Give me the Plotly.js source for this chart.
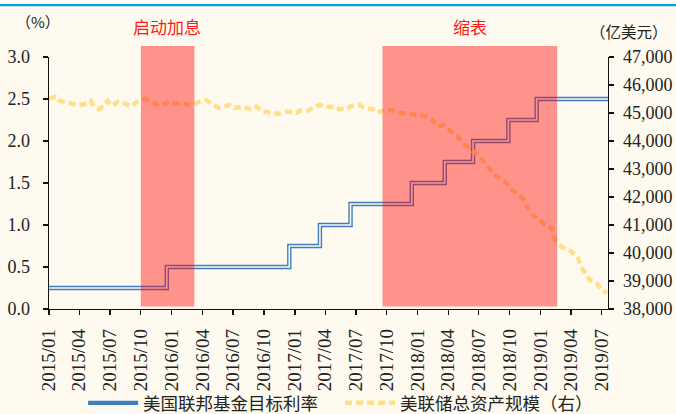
<!DOCTYPE html>
<html>
<head>
<meta charset="utf-8">
<script src="https://cdn.plot.ly/plotly-3.0.1.min.js"></script>
<style>
html,body{margin:0;padding:0;background:#FFFAEF;}
#chart{width:676px;height:414px;}
</style>
</head>
<body>
<div id="chart"></div>
<script>
// ---- Data ----
const rateDates = ['2015-01-01','2015-12-17','2016-12-15','2017-03-16','2017-06-15','2017-12-14','2018-03-22','2018-06-14','2018-09-27','2018-12-20','2019-07-20'];
const rateValues = [0.25,0.5,0.75,1.0,1.25,1.5,1.75,2.0,2.25,2.5,2.5];

const bsDates = ['2015-01-01','2015-01-20','2015-02-02','2015-02-22','2015-03-07','2015-03-26','2015-04-15','2015-05-05','2015-05-15','2015-05-30',
'2015-06-14','2015-06-24','2015-07-09','2015-07-24','2015-08-13','2015-09-02','2015-09-17','2015-10-11','2015-11-01','2015-11-25',
'2015-12-25','2016-01-14','2016-02-08','2016-03-03','2016-03-23','2016-04-12','2016-04-27','2016-05-21','2016-06-20','2016-07-05',
'2016-07-30','2016-08-29','2016-09-08','2016-09-28','2016-10-28','2016-11-12','2016-12-07','2017-01-06','2017-01-16','2017-02-10',
'2017-02-25','2017-03-15','2017-04-04','2017-05-03','2017-05-13','2017-06-07','2017-06-17','2017-07-12','2017-07-22','2017-08-21',
'2017-09-01','2017-09-25','2017-10-20','2017-11-09','2017-12-09','2018-01-09','2018-02-08','2018-03-02','2018-03-16','2018-04-11',
'2018-04-30','2018-05-15','2018-06-09','2018-07-04','2018-07-24','2018-08-18','2018-09-17','2018-10-07','2018-10-22','2018-11-10',
'2018-11-21','2018-12-06','2018-12-25','2019-01-14','2019-02-03','2019-02-13','2019-03-04','2019-04-03','2019-04-22','2019-05-07',
'2019-05-27','2019-06-16','2019-07-01','2019-07-17'];
const bsValues = [45500,45580,45430,45380,45345,45290,45310,45430,45225,45140,
45260,45430,45260,45400,45345,45225,45380,45500,45400,45260,
45400,45345,45320,45290,45400,45460,45345,45180,45290,45170,
45225,45110,45225,45050,45010,44965,45050,45010,45085,45085,
45205,45290,45225,45225,45130,45170,45250,45290,45205,45130,
45010,45110,45085,45010,44960,44930,44810,44510,44570,44330,
44150,43920,43680,43440,43140,42790,42550,42250,42130,41950,
41650,41360,41240,41000,40880,40460,40220,40050,39810,39390,
39040,38920,38680,38560];

const tickDates = ['2015-01-01','2015-04-01','2015-07-01','2015-10-01','2016-01-01','2016-04-01','2016-07-01','2016-10-01','2017-01-01','2017-04-01','2017-07-01','2017-10-01','2018-01-01','2018-04-01','2018-07-01','2018-10-01','2019-01-01','2019-04-01','2019-07-01'];
const tickLabels = ['2015/01','2015/04','2015/07','2015/10','2016/01','2016/04','2016/07','2016/10','2017/01','2017/04','2017/07','2017/10','2018/01','2018/04','2018/07','2018/10','2019/01','2019/04','2019/07'];

const periodStarts = ['2015-10-01','2017-09-18'];
const periodEnds = ['2016-03-08','2019-02-19'];
const periodLabels = ['启动加息','缩表'];

const seriesNames = ['美国联邦基金目标利率','美联储总资产规模（右）'];

// ---- Styles ----
const BG = '#FFFAEF';
const serif = '"Liberation Serif", "Times New Roman", Tinos, serif';
const cjk = '"Noto Sans CJK SC", sans-serif';

function midDate(a,b){
  const t = (new Date(a).getTime() + new Date(b).getTime())/2;
  return new Date(t).toISOString().slice(0,10);
}

const traces = [
  {x: rateDates, y: rateValues, type:'scatter', mode:'lines', name: seriesNames[0],
   line:{shape:'hv', color:'#3F7FC1', width:4.4}, yaxis:'y', hoverinfo:'skip'},
  {x: rateDates, y: rateValues, type:'scatter', mode:'lines', showlegend:false,
   line:{shape:'hv', color:BG, width:1.6}, yaxis:'y', hoverinfo:'skip'},
  {x: bsDates, y: bsValues, type:'scatter', mode:'lines', name: seriesNames[1],
   line:{color:'#FFE08A', width:4.5, dash:'7px,4px'}, yaxis:'y2', hoverinfo:'skip'}
];

const shapes = [];
const annotations = [];
periodStarts.forEach((s,i)=>{
  shapes.push({type:'rect', xref:'x', yref:'paper', x0:s, x1:periodEnds[i], y0:0.01, y1:1.044,
    fillcolor:'#FF0000', opacity:0.41, line:{width:0}, layer:'above'});
  annotations.push({xref:'x', yref:'paper', x:midDate(s,periodEnds[i]), y:1.123, text:periodLabels[i],
    showarrow:false, font:{family:cjk, size:17, color:'#FF1A1A'}, xanchor:'center', yanchor:'middle'});
});
shapes.push({type:'line', xref:'paper', yref:'paper', x0:-0.09, x1:1.13, y0:1.206, y1:1.206,
  line:{color:'#00A3E0', width:2.2}, layer:'above'});
annotations.push({xref:'paper', yref:'paper', x:-0.02, y:1.139, text:'（%）', showarrow:false,
  font:{family:cjk, size:15, color:'#222'}, xanchor:'center', yanchor:'middle'});
annotations.push({xref:'paper', yref:'paper', x:1.0376, y:1.105, text:'（亿美元）', showarrow:false,
  font:{family:cjk, size:15.5, color:'#222'}, xanchor:'center', yanchor:'middle'});

const layout = {
  width:676, height:414,
  margin:{l:49, r:68, t:57, b:105, pad:0, autoexpand:false},
  paper_bgcolor:BG, plot_bgcolor:BG,
  showlegend:true,
  legend:{orientation:'h', x:0.061, xanchor:'left', y:-0.373, yanchor:'middle',
    font:{family:cjk, size:17.5, color:'#222'}, bgcolor:'rgba(0,0,0,0)',
    itemwidth:50, entrywidth:192, entrywidthmode:'pixels'},
  xaxis:{type:'date', range:['2015-01-01','2019-07-20'], tickmode:'array', tickvals:tickDates, ticktext:tickLabels,
    tickangle:-90, ticks:'outside', ticklen:5, tickcolor:'#111', tickwidth:1.2, ticklabelstandoff:6, automargin:false,
    showline:true, linecolor:'#111', linewidth:1.3, showgrid:false, zeroline:false,
    tickfont:{family:serif, size:19, color:'#222'}},
  yaxis:{range:[0,3], dtick:0.5, tick0:0, tickformat:'.1f', ticks:'outside', ticklen:5, tickcolor:'#111', tickwidth:1.2,
    ticklabelstandoff:9, automargin:false,
    showline:true, linecolor:'#111', linewidth:1.3, showgrid:false, zeroline:false,
    tickfont:{family:serif, size:18, color:'#222'}},
  yaxis2:{overlaying:'y', side:'right', range:[38000,47000], dtick:1000, tick0:38000, tickformat:',d',
    ticks:'outside', ticklen:5, tickcolor:'#111', tickwidth:1.2, ticklabelstandoff:5, automargin:false,
    showline:true, linecolor:'#111', linewidth:1.3, showgrid:false, zeroline:false,
    tickfont:{family:serif, size:18, color:'#222'}},
  shapes:shapes, annotations:annotations
};

Plotly.newPlot('chart', traces, layout, {staticPlot:true, displayModeBar:false});
</script>
</body>
</html>
